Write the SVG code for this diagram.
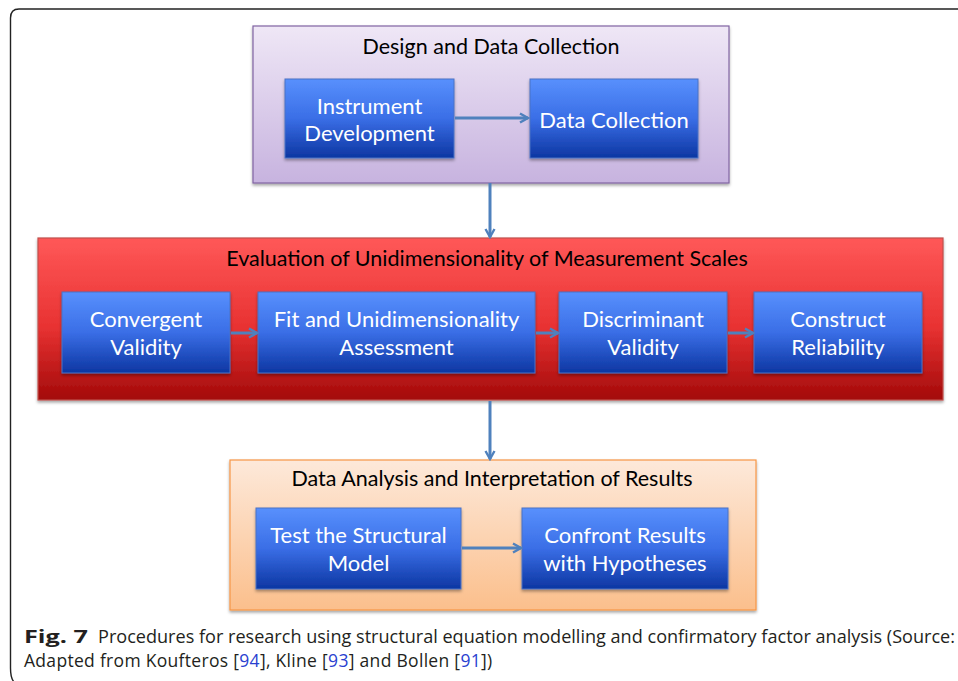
<svg xmlns="http://www.w3.org/2000/svg" width="958" height="681" viewBox="0 0 958 681">
<defs>
<linearGradient id="gPurple" x1="0" y1="0" x2="0" y2="1"><stop offset="0" stop-color="#efe7f6"/><stop offset="1" stop-color="#c7b3df"/></linearGradient>
<linearGradient id="gRed" x1="0" y1="0" x2="0" y2="1"><stop offset="0" stop-color="#ff5858"/><stop offset="0.55" stop-color="#e83232"/><stop offset="1" stop-color="#a30a0a"/></linearGradient>
<linearGradient id="gOrange" x1="0" y1="0" x2="0" y2="1"><stop offset="0" stop-color="#fde9da"/><stop offset="1" stop-color="#fbbf8c"/></linearGradient>
<linearGradient id="gBlue" x1="0" y1="0" x2="0" y2="1"><stop offset="0" stop-color="#5890fd"/><stop offset="0.5" stop-color="#3a6ee6"/><stop offset="1" stop-color="#0d36a2"/></linearGradient>
<filter id="sh" x="-5%" y="-5%" width="110%" height="115%"><feDropShadow dx="0" dy="2" stdDeviation="1.5" flood-color="#000" flood-opacity="0.35"/></filter>
<marker id="ah" viewBox="0 0 12 12" refX="10" refY="6" markerWidth="12" markerHeight="12" markerUnits="userSpaceOnUse" orient="auto"><path d="M2,1.5 L10,6 L2,10.5" fill="none" stroke="#4f81bd" stroke-width="2.4"/></marker>
</defs>
<style>
.title{font-family:Lato,"Liberation Sans",sans-serif;font-size:21.5px;fill:#000;text-anchor:middle}
.lbl{font-family:Lato,"Liberation Sans",sans-serif;font-size:22px;fill:#fff;text-anchor:middle}
.blue{fill:url(#gBlue);stroke:#4a72c4;stroke-width:1;filter:url(#sh)}
.conn{fill:none;stroke:#4f81bd;stroke-width:3;marker-end:url(#ah)}
.cap{font-family:"Open Sans","Noto Sans","Liberation Sans",sans-serif;font-size:17.5px;fill:#231f20}
.ref{fill:#2a3fd0}
</style>
<rect x="0" y="0" width="958" height="681" fill="#fff"/>
<path d="M970,9 L19,9 Q10.5,9 10.5,18 L10.5,668 Q10.5,678 14,682" fill="none" stroke="#222" stroke-width="1.4"/>

<g id="design">
<rect x="253" y="26" width="476" height="157" fill="url(#gPurple)" stroke="#8064a2" stroke-width="1.2" filter="url(#sh)"/>
<text class="title" x="491" y="54">Design and Data Collection</text>
</g>
<g id="instrument">
<rect class="blue" x="285" y="79" width="169" height="79"/>
<text class="lbl" x="369.5" y="114">Instrument</text>
<text class="lbl" x="369.5" y="141">Development</text>
</g>
<g id="datacollection">
<rect class="blue" x="530" y="79" width="168" height="79"/>
<text class="lbl" x="614" y="128">Data Collection</text>
</g>

<g id="evaluation">
<rect x="38" y="238" width="905" height="162" fill="url(#gRed)" stroke="#c0504d" stroke-width="1.2" filter="url(#sh)"/>
<text class="title" x="487" y="266">Evaluation of Unidimensionality of Measurement Scales</text>
</g>
<g id="convergent">
<rect class="blue" x="62" y="292" width="168" height="81"/>
<text class="lbl" x="146" y="327">Convergent</text>
<text class="lbl" x="146" y="355">Validity</text>
</g>
<g id="fit">
<rect class="blue" x="258" y="292" width="277" height="81"/>
<text class="lbl" x="396.5" y="327">Fit and Unidimensionality</text>
<text class="lbl" x="396.5" y="355">Assessment</text>
</g>
<g id="discriminant">
<rect class="blue" x="559" y="292" width="168" height="81"/>
<text class="lbl" x="643" y="327">Discriminant</text>
<text class="lbl" x="643" y="355">Validity</text>
</g>
<g id="reliability">
<rect class="blue" x="754" y="292" width="168" height="81"/>
<text class="lbl" x="838" y="327">Construct</text>
<text class="lbl" x="838" y="355">Reliability</text>
</g>

<g id="analysis">
<rect x="230" y="460" width="526" height="150" fill="url(#gOrange)" stroke="#f79646" stroke-width="1.2" filter="url(#sh)"/>
<text class="title" x="492" y="486">Data Analysis and Interpretation of Results</text>
</g>
<g id="structural">
<rect class="blue" x="256" y="508" width="205" height="81"/>
<text class="lbl" x="358.5" y="543">Test the Structural</text>
<text class="lbl" x="358.5" y="571">Model</text>
</g>
<g id="confront">
<rect class="blue" x="522" y="508" width="206" height="81"/>
<text class="lbl" x="625" y="543">Confront Results</text>
<text class="lbl" x="625" y="571">with Hypotheses</text>
</g>

<g id="connectors">
<line class="conn" x1="455" y1="118" x2="528" y2="118"/>
<line class="conn" x1="490" y1="183" x2="490" y2="237"/>
<line class="conn" x1="231" y1="333" x2="257" y2="333"/>
<line class="conn" x1="536" y1="333" x2="558" y2="333"/>
<line class="conn" x1="728" y1="333" x2="753" y2="333"/>
<line class="conn" x1="490" y1="401" x2="490" y2="459"/>
<line class="conn" x1="462" y1="548" x2="521" y2="548"/>
</g>

<g id="caption">
<text class="cap" x="24" y="643" font-weight="bold" font-size="19" textLength="64" lengthAdjust="spacingAndGlyphs">Fig. 7</text>
<text class="cap" x="98" y="643" textLength="857" lengthAdjust="spacingAndGlyphs">Procedures for research using structural equation modelling and confirmatory factor analysis (Source:</text>
<text class="cap" x="24" y="667" letter-spacing="0.3">Adapted from Koufteros [<tspan class="ref">94</tspan>], Kline [<tspan class="ref">93</tspan>] and Bollen [<tspan class="ref">91</tspan>])</text>
</g>
</svg>
